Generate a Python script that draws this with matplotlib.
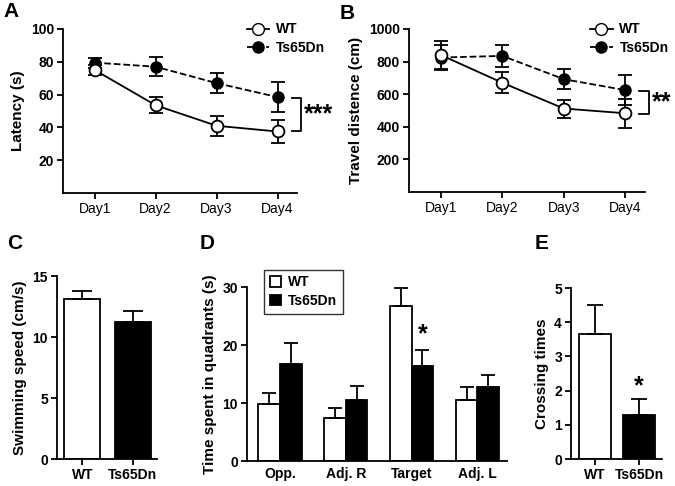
import numpy as np
import matplotlib
matplotlib.use('Agg')
from matplotlib import pyplot as plt
from matplotlib.patches import Patch
from matplotlib.lines import Line2D

plt.rcParams['font.family'] = ['Liberation Sans', 'DejaVu Sans']
plt.rcParams['axes.linewidth'] = 1.3

# data
days = ['Day1', 'Day2', 'Day3', 'Day4']
lat_wt = [75, 53.5, 41, 37.5]
lat_wt_err = [3, 5, 6, 7.3]
lat_ts = [79.5, 77, 67, 58.5]
lat_ts_err = [3, 5.7, 6.3, 9.2]

dist_wt = [840, 670, 512, 483]
dist_wt_err = [85, 64, 55, 88]
dist_ts = [825, 835, 692, 625]
dist_ts_err = [75, 68, 62, 92]

groups = ['WT', 'Ts65Dn']
speed = [13.1, 11.25]
speed_err = [0.7, 0.85]

quadrants = ['Opp.', 'Adj. R', 'Target', 'Adj. L']
quad_wt = [9.9, 7.4, 26.7, 10.6]
quad_wt_err = [1.9, 1.7, 3.2, 2.1]
quad_ts = [16.8, 10.6, 16.3, 12.8]
quad_ts_err = [3.5, 2.4, 2.9, 2.1]

crossing = [3.66, 1.3]
crossing_err = [0.85, 0.45]

W, H = 675, 486
fig = plt.figure(figsize=(W / 100, H / 100), dpi=100)


def box(l, r, t, b):
    return [l / W, (H - b) / H, (r - l) / W, (b - t) / H]


def style(ax):
    for s in ['top', 'right']:
        ax.spines[s].set_visible(False)
    ax.tick_params(direction='out', length=4.5, width=1.3, labelsize=10, pad=2)
    for lb in ax.get_yticklabels():
        lb.set_fontweight('bold')


def line_panel(ax, wt, wt_err, ts, ts_err, ylim, yticks, ylabel, brk, stars, leg_x):
    x = np.arange(1, 5)
    ax.errorbar(x, ts, yerr=ts_err, color='black', ls='--', lw=1.3, marker='o',
                ms=8, mfc='black', mec='black', capsize=5, elinewidth=1.3,
                capthick=1.3, label='Ts65Dn', zorder=3)
    ax.errorbar(x, wt, yerr=wt_err, color='black', ls='-', lw=1.3, marker='o',
                ms=8.5, mfc='white', mec='black', mew=1.3, capsize=5, elinewidth=1.3,
                capthick=1.3, label='WT', zorder=4)
    ax.set_xlim(0.48, 4.32)
    ax.set_ylim(*ylim)
    ax.set_yticks(yticks)
    ax.set_xticks(x)
    ax.set_xticklabels(days, fontsize=10.5)
    ax.set_ylabel(ylabel, fontsize=11, fontweight='bold', labelpad=4)
    style(ax)
    lo, hi = brk
    ax.plot([4.23, 4.38, 4.38, 4.23], [hi, hi, lo, lo], color='black', lw=1.3,
            clip_on=False)
    ax.text(4.44, (lo + hi) / 2, stars, fontsize=18, fontweight='bold',
            va='center', ha='left')
    h = [Line2D([], [], color='black', ls='-', marker='o', ms=8.5, mfc='white', lw=1.3),
         Line2D([], [], color='black', ls='--', marker='o', ms=8, mfc='black', lw=1.3)]
    ax.legend(h, ['WT', 'Ts65Dn'], loc='upper right', bbox_to_anchor=(leg_x, 1.04),
              frameon=False, handlelength=1.6, prop={'weight': 'bold', 'size': 10},
              labelspacing=0.35, handletextpad=0.5, borderpad=0, borderaxespad=0)


axA = fig.add_axes(box(63, 297, 29, 193))
line_panel(axA, lat_wt, lat_wt_err, lat_ts, lat_ts_err, (0, 100),
           [20, 40, 60, 80, 100], 'Latency (s)', (37.5, 58), '***', 1.12)

axB = fig.add_axes(box(409, 645, 29, 192))
line_panel(axB, dist_wt, dist_wt_err, dist_ts, dist_ts_err, (0, 1000),
           [200, 400, 600, 800, 1000], 'Travel distence (cm)', (480, 620), '**', 1.1)

axC = fig.add_axes(box(57, 157, 276, 459))
axC.bar([0], [speed[0]], width=0.72, color='white', edgecolor='black', lw=1.3)
axC.bar([1], [speed[1]], width=0.72, color='black', edgecolor='black', lw=1.3)
axC.errorbar([0, 1], speed, yerr=[[0, 0], speed_err], fmt='none',
             ecolor='black', capsize=7, elinewidth=1.3, capthick=1.3)
axC.set_xlim(-0.5, 1.48)
axC.set_ylim(0, 15)
axC.set_yticks([0, 5, 10, 15])
axC.set_xticks([0, 1])
axC.set_xticklabels(groups, fontweight='bold', fontsize=10.5)
axC.set_ylabel('Swimming speed (cm/s)', fontsize=11, fontweight='bold', labelpad=4)
style(axC)

axD = fig.add_axes(box(247, 507, 287, 461))
xq = np.arange(len(quadrants))
bw = 0.33
axD.bar(xq - bw / 2, quad_wt, width=bw, color='white', edgecolor='black', lw=1.3)
axD.bar(xq + bw / 2, quad_ts, width=bw, color='black', edgecolor='black', lw=1.3)
axD.errorbar(xq - bw / 2, quad_wt, yerr=[[0] * 4, quad_wt_err], fmt='none',
             ecolor='black', capsize=5, elinewidth=1.3, capthick=1.3)
axD.errorbar(xq + bw / 2, quad_ts, yerr=[[0] * 4, quad_ts_err], fmt='none',
             ecolor='black', capsize=5, elinewidth=1.3, capthick=1.3)
axD.text(2 + bw / 2, quad_ts[2] + quad_ts_err[2] + 0.6, '*', fontsize=18,
         fontweight='bold', ha='center', va='bottom')
axD.set_xlim(-0.5, 3.45)
axD.set_ylim(0, 30)
axD.set_yticks([0, 10, 20, 30])
axD.set_xticks(xq)
axD.set_xticklabels(quadrants, fontweight='bold', fontsize=10.5)
axD.set_ylabel('Time spent in quadrants (s)', fontsize=11, fontweight='bold', labelpad=4)
style(axD)
axD.tick_params(axis='x', length=0, pad=4)
lg = axD.legend([Patch(facecolor='white', edgecolor='black', lw=1.3),
                 Patch(facecolor='black', edgecolor='black', lw=1.3)],
                ['WT', 'Ts65Dn'], loc='upper left', bbox_to_anchor=(0.04, 1.14),
                fancybox=False, edgecolor='black', handlelength=0.8, handleheight=0.8,
                prop={'weight': 'bold', 'size': 10}, borderpad=0.4, labelspacing=0.35,
                handletextpad=0.5)
lg.get_frame().set_linewidth(1.0)

axE = fig.add_axes(box(571, 662, 288, 459))
axE.bar([0], [crossing[0]], width=0.73, color='white', edgecolor='black', lw=1.3)
axE.bar([1], [crossing[1]], width=0.73, color='black', edgecolor='black', lw=1.3)
axE.errorbar([0, 1], crossing, yerr=[[0, 0], crossing_err], fmt='none',
             ecolor='black', capsize=6, elinewidth=1.3, capthick=1.3)
axE.text(1, crossing[1] + crossing_err[1] + 0.02, '*', fontsize=18,
         fontweight='bold', ha='center', va='bottom')
axE.set_xlim(-0.55, 1.52)
axE.set_ylim(0, 5)
axE.set_yticks([0, 1, 2, 3, 4, 5])
axE.set_xticks([0, 1])
axE.set_xticklabels(groups, fontweight='bold', fontsize=10.5)
axE.set_ylabel('Crossing times', fontsize=11, fontweight='bold', labelpad=4)
style(axE)

for lbl, x, y in [('A', 3, 2), ('B', 340, 4), ('C', 7, 234), ('D', 200, 234), ('E', 535, 234)]:
    fig.text(x / W, 1 - y / H, lbl, fontsize=15, fontweight='bold', va='top', ha='left')

fig.savefig('out.png', dpi=100)
